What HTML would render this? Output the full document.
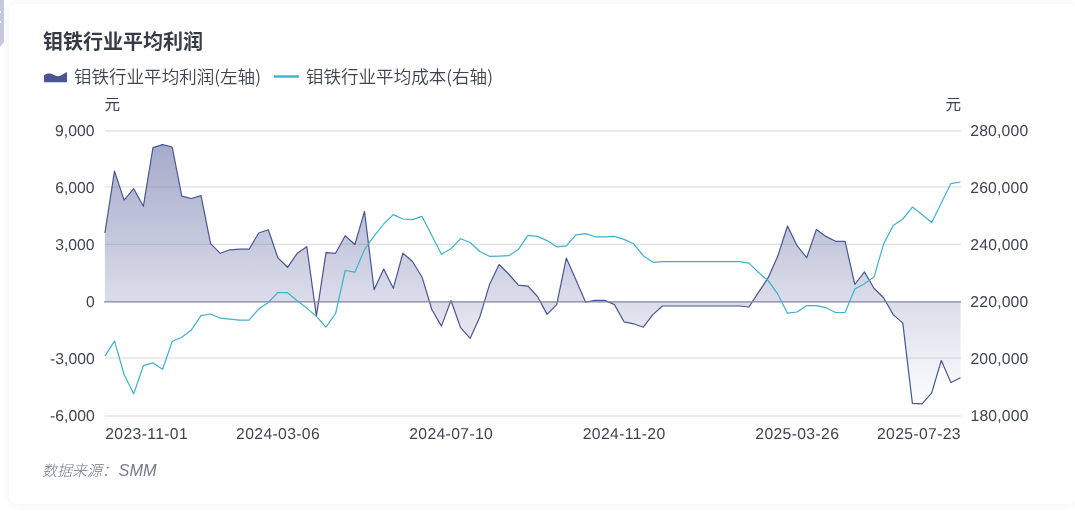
<!DOCTYPE html>
<html lang="zh-CN"><head><meta charset="utf-8"><title>钼铁行业平均利润</title>
<style>
html,body{margin:0;padding:0;background:#fff;}
body{width:1075px;height:524px;overflow:hidden;position:relative;font-family:"Liberation Sans","Noto Sans CJK SC",sans-serif;}
.card{position:absolute;left:9px;top:4px;width:1068px;height:500px;background:#fff;border-radius:8px;box-shadow:0 0 10px rgba(40,50,90,0.075);}
.tab{position:absolute;left:0;top:0;width:4px;height:47px;background:#c6c7e0;clip-path:polygon(0 0,100% 0,100% 42px,0 47px);}
.tab i{position:absolute;left:0;width:1px;height:2px;background:#fff;}
svg{position:absolute;left:0;top:0;will-change:transform;}
.ax{font-size:15.75px;fill:#3f4452;}
.title{font-size:20px;font-weight:bold;fill:#363b48;}
.lg{font-size:17.55px;font-weight:350;fill:#3f4450;}
.pn{font-family:"Noto Sans CJK SC","Liberation Sans",sans-serif;}
.src{font-size:15px;font-style:italic;fill:#737989;}
</style></head><body>
<div class="card"></div>
<div class="tab"><i style="top:11px"></i><i style="top:21px"></i></div>
<svg width="1075" height="524" viewBox="0 0 1075 524">
<defs><linearGradient id="g" gradientUnits="userSpaceOnUse" x1="0" y1="144" x2="0" y2="404">
<stop offset="0" stop-color="#4a5594" stop-opacity="0.5"/><stop offset="1" stop-color="#4a5594" stop-opacity="0.005"/></linearGradient></defs>
<text class="title" x="43" y="48.5">钼铁行业平均利润</text>
<path d="M44,82.2 V75.6 C46,73.6 48,73.4 50,73.5 C53,73.7 55,76.2 58,76.2 C61,76.2 64,73.5 67,72.1 V82.2 Z" fill="#4a5594"/>
<text class="lg" x="74" y="82.5">钼铁行业平均利润<tspan class="pn">(</tspan>左轴<tspan class="pn">)</tspan></text>
<line x1="273.8" x2="299" y1="76.5" y2="76.5" stroke="#3fb1cd" stroke-width="2.4"/>
<text class="lg" x="306" y="82.5">钼铁行业平均成本<tspan class="pn">(</tspan>右轴<tspan class="pn">)</tspan></text>
<text class="ax" x="104.6" y="110.3" style="font-size:15.6px">元</text>
<text class="ax" x="961" y="110.3" text-anchor="end" style="font-size:15.6px">元</text>
<line x1="104.8" x2="961" y1="131.00" y2="131.00" stroke="#e3e5ea" stroke-width="1.4"/>
<line x1="104.8" x2="961" y1="187.00" y2="187.00" stroke="#e3e5ea" stroke-width="1.4"/>
<line x1="104.8" x2="961" y1="244.20" y2="244.20" stroke="#e3e5ea" stroke-width="1.4"/>
<line x1="104.8" x2="961" y1="358.00" y2="358.00" stroke="#e3e5ea" stroke-width="1.4"/>
<line x1="104.8" x2="961" y1="416.00" y2="416.00" stroke="#e3e5ea" stroke-width="1.4"/>

<path d="M104.9,301.9 L104.9,233.0 L114.5,171.1 L124.1,200.1 L133.7,188.7 L143.4,206.2 L153.0,147.6 L162.6,144.6 L172.2,147.0 L181.8,196.1 L191.4,198.5 L201.0,195.7 L210.6,243.6 L220.3,253.3 L229.9,249.8 L239.5,249.2 L249.1,249.2 L258.7,233.0 L268.3,229.8 L277.9,257.9 L287.6,267.3 L297.2,253.3 L306.8,246.7 L316.4,316.1 L326.0,252.7 L335.6,253.3 L345.2,235.7 L354.9,244.5 L364.5,211.4 L374.1,289.7 L383.7,269.0 L393.3,288.3 L402.9,253.1 L412.5,261.5 L422.1,277.2 L431.8,309.5 L441.4,326.1 L451.0,300.5 L460.6,327.7 L470.2,338.3 L479.8,317.1 L489.4,284.8 L499.1,264.5 L508.7,274.0 L518.3,285.1 L527.9,286.1 L537.5,296.5 L547.1,314.4 L556.7,304.6 L566.3,258.1 L576.0,280.1 L585.6,302.2 L595.2,300.4 L604.8,300.4 L614.4,304.6 L624.0,321.8 L633.6,323.8 L643.3,327.2 L652.9,314.6 L662.5,306.0 L672.1,306.0 L681.7,306.0 L691.3,306.0 L700.9,306.0 L710.5,306.0 L720.2,306.0 L729.8,306.0 L739.4,306.0 L749.0,307.0 L758.6,292.2 L768.2,277.7 L777.8,256.1 L787.5,226.0 L797.1,245.7 L806.7,257.7 L816.3,229.6 L825.9,236.4 L835.5,241.3 L845.1,241.3 L854.8,284.5 L864.4,271.9 L874.0,288.3 L883.6,297.8 L893.2,314.6 L902.8,323.1 L912.4,403.4 L922.0,403.9 L931.7,392.8 L941.3,360.5 L950.9,382.5 L960.5,377.7 L960.5,301.9 Z" fill="url(#g)"/>
<polyline points="104.9,233.0 114.5,171.1 124.1,200.1 133.7,188.7 143.4,206.2 153.0,147.6 162.6,144.6 172.2,147.0 181.8,196.1 191.4,198.5 201.0,195.7 210.6,243.6 220.3,253.3 229.9,249.8 239.5,249.2 249.1,249.2 258.7,233.0 268.3,229.8 277.9,257.9 287.6,267.3 297.2,253.3 306.8,246.7 316.4,316.1 326.0,252.7 335.6,253.3 345.2,235.7 354.9,244.5 364.5,211.4 374.1,289.7 383.7,269.0 393.3,288.3 402.9,253.1 412.5,261.5 422.1,277.2 431.8,309.5 441.4,326.1 451.0,300.5 460.6,327.7 470.2,338.3 479.8,317.1 489.4,284.8 499.1,264.5 508.7,274.0 518.3,285.1 527.9,286.1 537.5,296.5 547.1,314.4 556.7,304.6 566.3,258.1 576.0,280.1 585.6,302.2 595.2,300.4 604.8,300.4 614.4,304.6 624.0,321.8 633.6,323.8 643.3,327.2 652.9,314.6 662.5,306.0 672.1,306.0 681.7,306.0 691.3,306.0 700.9,306.0 710.5,306.0 720.2,306.0 729.8,306.0 739.4,306.0 749.0,307.0 758.6,292.2 768.2,277.7 777.8,256.1 787.5,226.0 797.1,245.7 806.7,257.7 816.3,229.6 825.9,236.4 835.5,241.3 845.1,241.3 854.8,284.5 864.4,271.9 874.0,288.3 883.6,297.8 893.2,314.6 902.8,323.1 912.4,403.4 922.0,403.9 931.7,392.8 941.3,360.5 950.9,382.5 960.5,377.7" fill="none" stroke="#4a5594" stroke-width="1.2" stroke-linejoin="round"/>
<line x1="104" x2="961" y1="301.90" y2="301.90" stroke="#80849a" stroke-width="1.4"/>
<polyline points="104.9,356.1 114.5,341.1 124.1,374.5 133.7,393.8 143.4,365.7 153.0,362.9 162.6,369.3 172.2,341.5 181.8,337.3 191.4,329.9 201.0,315.7 210.6,314.0 220.3,318.2 229.9,319.2 239.5,320.1 249.1,320.1 258.7,309.0 268.3,302.4 277.9,292.5 287.6,292.7 297.2,300.8 306.8,308.1 316.4,316.4 326.0,327.1 335.6,313.5 345.2,270.5 354.9,272.2 364.5,249.5 374.1,236.1 383.7,224.0 393.3,214.6 402.9,219.0 412.5,219.6 422.1,216.4 431.8,235.5 441.4,254.3 451.0,248.7 460.6,238.7 470.2,242.5 479.8,251.5 489.4,256.3 499.1,256.1 508.7,255.7 518.3,249.6 527.9,235.4 537.5,236.4 547.1,240.6 556.7,246.8 566.3,245.8 576.0,234.8 585.6,233.6 595.2,236.8 604.8,236.8 614.4,236.4 624.0,239.4 633.6,243.8 643.3,255.7 652.9,262.3 662.5,261.7 672.1,261.7 681.7,261.7 691.3,261.7 700.9,261.7 710.5,261.7 720.2,261.7 729.8,261.7 739.4,261.7 749.0,263.1 758.6,272.5 768.2,280.7 777.8,294.2 787.5,313.2 797.1,312.0 806.7,305.6 816.3,305.6 825.9,307.7 835.5,312.5 845.1,312.5 854.8,289.1 864.4,283.7 874.0,277.1 883.6,244.1 893.2,225.5 902.8,219.0 912.4,207.1 922.0,214.5 931.7,222.5 941.3,203.1 950.9,183.6 960.5,182.0" fill="none" stroke="#3fb1cd" stroke-width="1.2" stroke-linejoin="round"/>
<g transform="skewX(0.05)">
<text class="ax" x="94.4" y="135.8" text-anchor="end" style="letter-spacing:0px">9,000</text>
<text class="ax" x="970.1" y="135.8" style="letter-spacing:0.17px">280,000</text>
<text class="ax" x="94.4" y="192.8" text-anchor="end" style="letter-spacing:0px">6,000</text>
<text class="ax" x="970.1" y="192.8" style="letter-spacing:0.17px">260,000</text>
<text class="ax" x="94.4" y="249.8" text-anchor="end" style="letter-spacing:0px">3,000</text>
<text class="ax" x="970.1" y="249.8" style="letter-spacing:0.17px">240,000</text>
<text class="ax" x="94.4" y="306.8" text-anchor="end" style="letter-spacing:0px">0</text>
<text class="ax" x="970.1" y="306.8" style="letter-spacing:0.17px">220,000</text>
<text class="ax" x="94.4" y="363.8" text-anchor="end" style="letter-spacing:0px">-3,000</text>
<text class="ax" x="970.1" y="363.8" style="letter-spacing:0.17px">200,000</text>
<text class="ax" x="94.4" y="420.8" text-anchor="end" style="letter-spacing:0px">-6,000</text>
<text class="ax" x="970.1" y="420.8" style="letter-spacing:0.17px">180,000</text>

<text class="ax" x="104.9" y="439" text-anchor="start" style="letter-spacing:0.34px">2023-11-01</text>
<text class="ax" x="277.7" y="439" text-anchor="middle" style="letter-spacing:0.34px">2024-03-06</text>
<text class="ax" x="450.8" y="439" text-anchor="middle" style="letter-spacing:0.34px">2024-07-10</text>
<text class="ax" x="623.8" y="439" text-anchor="middle" style="letter-spacing:0.34px">2024-11-20</text>
<text class="ax" x="796.9" y="439" text-anchor="middle" style="letter-spacing:0.34px">2025-03-26</text>
<text class="ax" x="960.6" y="439" text-anchor="end" style="letter-spacing:0.34px">2025-07-23</text>
</g>
<text class="src" x="42" y="476"><tspan style="font-weight:300">数据来源：</tspan><tspan dx="1.5" style="font-size:16.3px">SMM</tspan></text>
</svg>
</body></html>
